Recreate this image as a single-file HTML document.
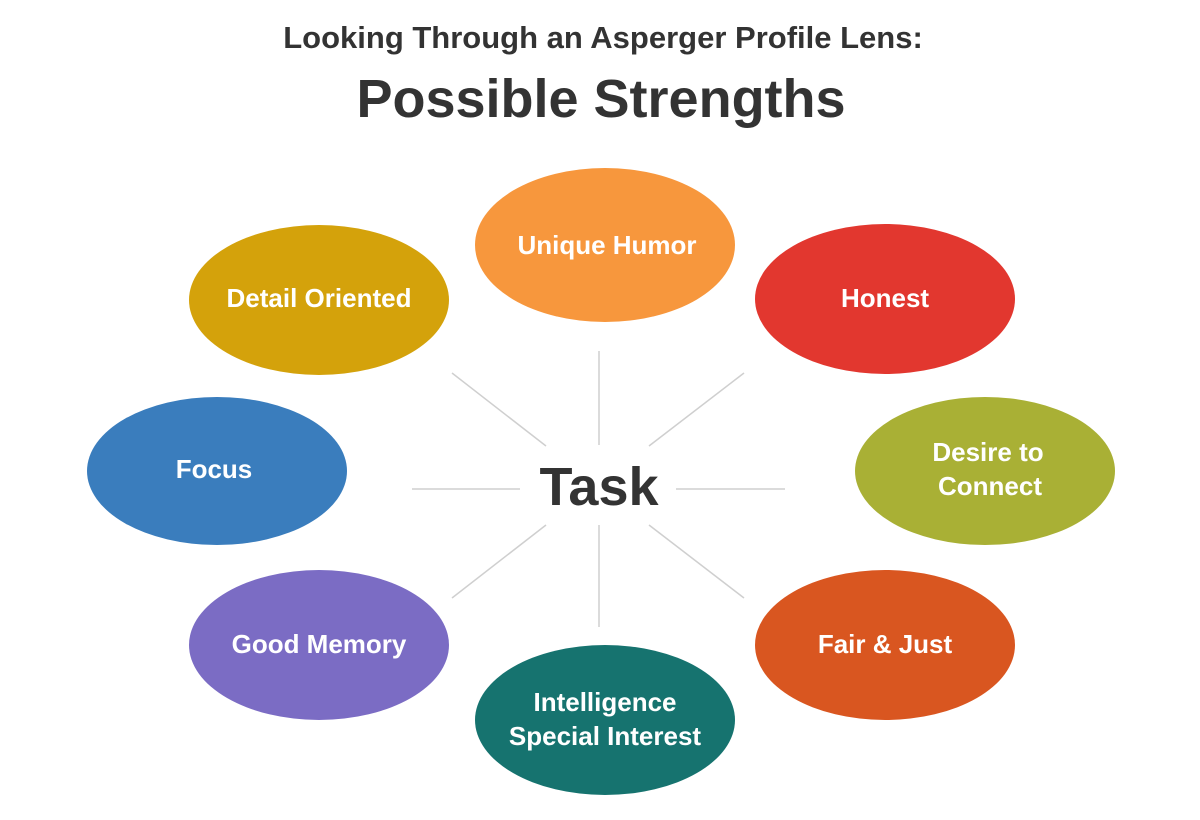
<!DOCTYPE html>
<html><head><meta charset="utf-8"><style>
body{margin:0;background:#fff;}
svg{display:block;}
text{font-family:"Liberation Sans",sans-serif;font-weight:bold;}
</style></head><body>
<svg width="1200" height="820" viewBox="0 0 1200 820" xmlns="http://www.w3.org/2000/svg">
<text x="603" y="48" font-size="31" fill="#333" text-anchor="middle">Looking Through an Asperger Profile Lens:</text>
<text x="601" y="117" font-size="54" fill="#333" text-anchor="middle">Possible Strengths</text>
<g stroke="#cfcfcf" stroke-width="1.5">
<line x1="599" y1="351" x2="599" y2="445"/>
<line x1="599" y1="525" x2="599" y2="627"/>
<line x1="412" y1="489" x2="520" y2="489"/>
<line x1="676" y1="489" x2="785" y2="489"/>
<line x1="452" y1="373" x2="546" y2="446"/>
<line x1="744" y1="373" x2="649" y2="446"/>
<line x1="546" y1="525" x2="452" y2="598"/>
<line x1="649" y1="525" x2="744" y2="598"/>
</g>
<text x="599" y="505" font-size="54" fill="#333" text-anchor="middle">Task</text>
<g>
<ellipse cx="605" cy="245" rx="130" ry="77" fill="#F7973D"/>
<ellipse cx="885" cy="299" rx="130" ry="75" fill="#E2372F"/>
<ellipse cx="319" cy="300" rx="130" ry="75" fill="#D4A20B"/>
<ellipse cx="217" cy="471" rx="130" ry="74" fill="#3A7DBD"/>
<ellipse cx="985" cy="471" rx="130" ry="74" fill="#A9B035"/>
<ellipse cx="319" cy="645" rx="130" ry="75" fill="#7B6CC4"/>
<ellipse cx="885" cy="645" rx="130" ry="75" fill="#D95620"/>
<ellipse cx="605" cy="720" rx="130" ry="75" fill="#16736F"/>
</g>
<g fill="#fff" font-size="26" text-anchor="middle">
<text x="607" y="254">Unique Humor</text>
<text x="885" y="307">Honest</text>
<text x="319" y="307">Detail Oriented</text>
<text x="214" y="478">Focus</text>
<text x="988" y="461">Desire to</text>
<text x="990" y="495">Connect</text>
<text x="319" y="653">Good Memory</text>
<text x="885" y="653">Fair &amp; Just</text>
<text x="605" y="711">Intelligence</text>
<text x="605" y="745">Special Interest</text>
</g>
</svg>
</body></html>
